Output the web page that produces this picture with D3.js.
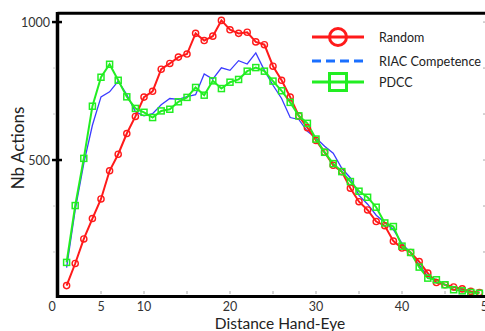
<!DOCTYPE html>
<html><head><meta charset="utf-8">
<script src="https://cdn.jsdelivr.net/npm/d3@7/dist/d3.min.js"></script>
<style>body{margin:0;background:#fff}svg{display:block}</style>
</head><body>
<svg id="c" width="485" height="331"></svg>
<script>
const distances = [1,2,3,4,5,6,7,8,9,10,11,12,13,14,15,16,17,18,19,20,21,22,23,24,25,26,27,28,29,30,31,32,33,34,35,36,37,38,39,40,41,42,43,44,45,46,47,48,49];
const randomVals = [45,125,214,288,359,461,521,596,658,728,749,829,850,873,884,959,933,949,1006,972,959,963,928,918,840,789,728,660,617,571,528,481,458,398,349,319,277,262,206,181,165,132,90,56,48,40,33,24,20];
const riacVals = [110,319,488,626,729,747,786,737,675,660,668,700,723,720,730,737,812,793,834,825,860,848,888,825,771,723,654,647,604,580,550,525,470,435,372,340,300,274,248,198,163,120,78,66,48,40,30,24,20];
const pdccVals = [129,335,506,695,800,847,789,729,687,673,654,678,684,711,727,763,735,787,759,782,792,822,835,822,786,751,709,660,633,576,528,487,458,422,387,365,329,272,259,188,165,112,72,66,48,30,26,20,17];
const xTickLabels = [0,5,10,20,30,40,50];
const xMinorTicks = [5,10,15,20,25,30,35,40,45];
const yTickLabels = [500,1000];
const yMinorTicks = [166.7,333.3,500,666.7,833.3,1000];
const seriesNames = ["Random","RIAC Competence","PDCC"];

const svg = d3.select("#c");
const x = d3.scaleLinear().domain([0,50]).range([58,488]);
const y = d3.scaleLinear().domain([0,1031]).range([298,13.5]);
const font = "Lato, 'Open Sans', sans-serif";

// faint minor ticks
svg.append("g").selectAll("line").data(xMinorTicks).join("line")
  .attr("x1", d=>x(d)).attr("x2", d=>x(d)).attr("y1", 291).attr("y2", 294)
  .attr("stroke","#aaa").attr("stroke-width",1);
svg.append("g").selectAll("line").data(yMinorTicks).join("line")
  .attr("x1", 483).attr("x2", 485).attr("y1", d=>y(d)).attr("y2", d=>y(d))
  .attr("stroke","#aaa").attr("stroke-width",1);

// lines
const line = d3.line().x((d,i)=>x(distances[i])).y(d=>y(d));
svg.append("path").datum(riacVals).attr("d", line).attr("fill","none")
  .attr("stroke","#3b3bff").attr("stroke-width",1.3);
svg.append("path").datum(randomVals).attr("d", line).attr("fill","none")
  .attr("stroke","#ff1a1a").attr("stroke-width",2);
svg.append("path").datum(pdccVals).attr("d", line).attr("fill","none")
  .attr("stroke","#22ee22").attr("stroke-width",2);

svg.append("g").selectAll("circle").data(randomVals).join("circle")
  .attr("cx",(d,i)=>x(distances[i])).attr("cy",d=>y(d)).attr("r",3.1)
  .attr("fill","none").attr("stroke","#ff1a1a").attr("stroke-width",1.4);
svg.append("g").selectAll("rect").data(pdccVals).join("rect")
  .attr("x",(d,i)=>x(distances[i])-3).attr("y",d=>y(d)-3).attr("width",6).attr("height",6)
  .attr("fill","none").attr("stroke","#22ee22").attr("stroke-width",1.5);

// frame / axes
svg.append("line").attr("x1",57.5).attr("x2",485).attr("y1",13.3).attr("y2",13.3).attr("stroke","#000").attr("stroke-width",3);
svg.append("line").attr("x1",57.5).attr("x2",57.5).attr("y1",12).attr("y2",298).attr("stroke","#000").attr("stroke-width",3.5);
svg.append("line").attr("x1",56).attr("x2",485).attr("y1",296.5).attr("y2",296.5).attr("stroke","#000").attr("stroke-width",3);

svg.append("g").selectAll("line").data(yTickLabels).join("line")
  .attr("x1",52).attr("x2",62).attr("y1",d=>y(d)).attr("y2",d=>y(d))
  .attr("stroke","#000").attr("stroke-width",2.5);
svg.append("g").selectAll("line").data(yMinorTicks.filter(d=>yTickLabels.indexOf(d)<0)).join("line")
  .attr("x1",53).attr("x2",55).attr("y1",d=>y(d)).attr("y2",d=>y(d))
  .attr("stroke","#ccc").attr("stroke-width",1);

svg.append("g").selectAll("text").data(yTickLabels).join("text")
  .attr("x",50).attr("y",d=>y(d)+4.5).attr("text-anchor","end")
  .attr("font-family",font).attr("font-size",12.5).attr("fill","#333").text(d=>d);
svg.append("g").selectAll("text").data(xTickLabels).join("text")
  .attr("x",d=> d===0 ? 52 : x(d)).attr("y",311).attr("text-anchor","middle")
  .attr("font-family",font).attr("font-size",12.5).attr("fill","#333").text(d=>d);

svg.append("text").attr("transform","translate(24,148) rotate(-90)").attr("text-anchor","middle")
  .attr("font-family",font).attr("font-size",17).attr("fill","#222").text("Nb Actions");
svg.append("text").attr("x",280).attr("y",329).attr("text-anchor","middle")
  .attr("font-family",font).attr("font-size",15.5).attr("fill","#222").text("Distance Hand-Eye");

// legend
const lg = svg.append("g");
const rows = [37, 61, 82];
lg.append("line").attr("x1",312).attr("x2",364).attr("y1",rows[0]).attr("y2",rows[0]).attr("stroke","#ff1a1a").attr("stroke-width",3);
lg.append("circle").attr("cx",338).attr("cy",rows[0]).attr("r",8.5).attr("fill","none").attr("stroke","#ff1a1a").attr("stroke-width",3);
lg.append("line").attr("x1",312).attr("x2",364).attr("y1",rows[1]).attr("y2",rows[1]).attr("stroke","#1a6fff").attr("stroke-width",3).attr("stroke-dasharray","9,5");
lg.append("line").attr("x1",312).attr("x2",364).attr("y1",rows[2]).attr("y2",rows[2]).attr("stroke","#22ee22").attr("stroke-width",3);
lg.append("rect").attr("x",329.5).attr("y",rows[2]-8.5).attr("width",17).attr("height",17).attr("fill","none").attr("stroke","#22ee22").attr("stroke-width",3);
lg.selectAll("text").data(seriesNames).join("text")
  .attr("x",379).attr("y",(d,i)=>rows[i]+5).attr("font-family",font).attr("font-size",12.5)
  .attr("textLength",(d,i)=> i===1 ? 102 : null).attr("lengthAdjust","spacingAndGlyphs")
  .attr("fill","#222").text(d=>d);
</script>
</body></html>
